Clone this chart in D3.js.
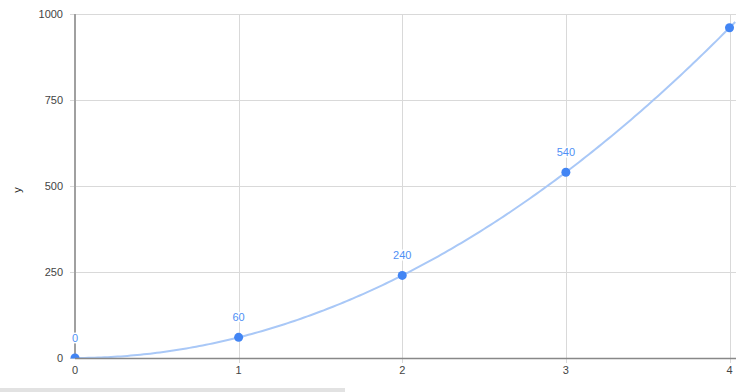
<!DOCTYPE html>
<html>
<head>
<meta charset="utf-8">
<script src="https://cdn.jsdelivr.net/npm/d3@7"></script>
<style>
body { margin: 0; background: #fff; }
svg { display: block; font-family: Arial, "Liberation Sans", sans-serif; }
</style>
</head>
<body>
<svg></svg>
<script>
var xValues = [0, 1, 2, 3, 4]
var yValues = [0, 60, 240, 540, 960]
var xTicks = [0, 1, 2, 3, 4]
var yTicks = [0, 250, 500, 750, 1000]

var width = 748, height = 392
var svg = d3.select('svg').attr('width', width).attr('height', height)

var x = d3.scaleLinear().domain([0, 4]).range([75, 729.5])
var y = d3.scaleLinear().domain([0, 1000]).range([358, 14])

// plot area clip (points and labels get cut at the frame)
svg.append('defs').append('clipPath').attr('id', 'plotclip')
	.append('rect').attr('x', 0).attr('y', 14).attr('width', width).attr('height', 344.5)

// horizontal grid
svg.append('g').selectAll('line').data(yTicks.filter(function(d) {return d > 0})).enter().append('line')
	.attr('x1', 70).attr('x2', 736)
	.attr('y1', function(d) {return Math.round(y(d)) + 0.5})
	.attr('y2', function(d) {return Math.round(y(d)) + 0.5})
	.attr('stroke', '#d9d9d9').attr('stroke-width', 1)

// vertical grid
svg.append('g').selectAll('line').data(xTicks.filter(function(d) {return d > 0})).enter().append('line')
	.attr('x1', function(d) {return Math.round(x(d)) + 0.5})
	.attr('x2', function(d) {return Math.round(x(d)) + 0.5})
	.attr('y1', 14).attr('y2', 363)
	.attr('stroke', '#d9d9d9').attr('stroke-width', 1)

// y axis line
svg.append('line').attr('x1', 75).attr('x2', 75).attr('y1', 14).attr('y2', 358)
	.attr('stroke', '#a0a0a0').attr('stroke-width', 2)
svg.append('line').attr('x1', 70).attr('x2', 75).attr('y1', 358.5).attr('y2', 358.5)
	.attr('stroke', '#d9d9d9')

// quadratic least squares trendline from the points
function fitQuad(xs, ys) {
	var n = xs.length, s = [0, 0, 0, 0, 0], t = [0, 0, 0]
	for (var i = 0; i < n; i++) {
		var p = 1
		for (var k = 0; k < 5; k++) { s[k] += p; if (k < 3) t[k] += p * ys[i]; p *= xs[i] }
	}
	var A = [[s[0], s[1], s[2], t[0]], [s[1], s[2], s[3], t[1]], [s[2], s[3], s[4], t[2]]]
	for (var c = 0; c < 3; c++) {
		for (var r = c + 1; r < 3; r++) {
			var f = A[r][c] / A[c][c]
			for (var j = c; j < 4; j++) A[r][j] -= f * A[c][j]
		}
	}
	var b = [0, 0, 0]
	for (var r = 2; r >= 0; r--) {
		var sum = A[r][3]
		for (var j = r + 1; j < 3; j++) sum -= A[r][j] * b[j]
		b[r] = sum / A[r][r]
	}
	return function(v) {return b[0] + b[1] * v + b[2] * v * v}
}
var trend = fitQuad(xValues, yValues)
var trendPts = d3.range(0, 4.035, 0.02).concat([4.035]).map(function(v) {return [v, trend(v)]})

svg.append('path').datum(trendPts)
	.attr('d', d3.line().x(function(d) {return x(d[0])}).y(function(d) {return y(d[1])}))
	.attr('fill', 'none').attr('stroke', '#a9c8f7').attr('stroke-width', 2)

var pts = xValues.map(function(v, i) {return {x: v, y: yValues[i]}})
var marks = svg.append('g').attr('clip-path', 'url(#plotclip)')

// points
marks.append('g').selectAll('circle').data(pts).enter().append('circle')
	.attr('cx', function(d) {return x(d.x)})
	.attr('cy', function(d) {return y(d.y)})
	.attr('r', 4.5)
	.attr('fill', '#4285f4')

// x axis baseline
svg.append('line').attr('x1', 75).attr('x2', 736).attr('y1', 358.5).attr('y2', 358.5)
	.attr('stroke', '#888').attr('stroke-width', 1.5)

// point labels (white halo like the original)
svg.append('g').attr('clip-path', 'url(#plotclip)').selectAll('text').data(pts).enter().append('text')
	.attr('x', function(d) {return x(d.x)})
	.attr('y', function(d) {return y(d.y) - 16})
	.attr('text-anchor', 'middle')
	.attr('font-size', 11)
	.attr('fill', '#4f8ff5')
	.attr('stroke', '#fff').attr('stroke-width', 3).attr('paint-order', 'stroke')
	.text(function(d) {return d.y})

// y tick labels
svg.append('g').selectAll('text').data(yTicks).enter().append('text')
	.attr('x', 63).attr('y', function(d) {return y(d) + 4})
	.attr('text-anchor', 'end').attr('font-size', 11).attr('fill', '#444')
	.text(function(d) {return d})

// x tick labels
svg.append('g').selectAll('text').data(xTicks).enter().append('text')
	.attr('x', function(d) {return x(d)}).attr('y', 374)
	.attr('text-anchor', 'middle').attr('font-size', 11).attr('fill', '#444')
	.text(function(d) {return d})

// y axis title
svg.append('text').attr('transform', 'translate(21,190) rotate(-90)')
	.attr('text-anchor', 'middle').attr('font-size', 11).attr('fill', '#222').text('y')

// scrollbar-like strip at the bottom
svg.append('rect').attr('x', 0).attr('y', 388).attr('width', 345).attr('height', 4).attr('fill', '#e2e2e2')
</script>
</body>
</html>
